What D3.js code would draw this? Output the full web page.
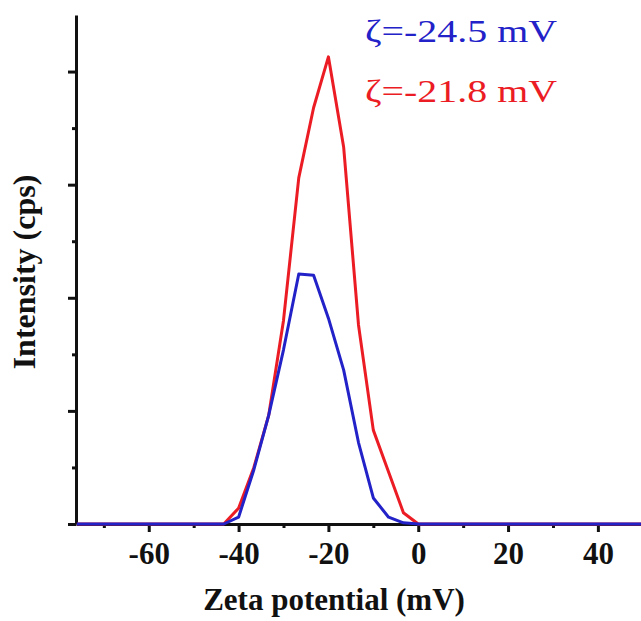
<!DOCTYPE html>
<meta charset="utf-8">
<body style="margin:0;background:#fff">
    <style>
        .axis path, .axis line { stroke: #111; }
        .axis path { stroke-width: 3px; }
        .axis line { stroke-width: 3px; }
        .axis text { font-family: "Liberation Serif", serif; font-weight: bold; font-size: 31px; fill: #111; }
        .curve { fill: none; stroke-width: 3px; stroke-linejoin: round; }
    </style>
    <script src="https://d3js.org/d3.v7.min.js"></script>
    <script>
        // zeta potential grid (mV) and the two intensity curves (arbitrary units)
        var zeta   = [-76, -43.3, -40, -36.6, -33.3, -30, -26.6, -23.3, -20, -16.6, -13.3, -10, -6.6, -3.3, 0, 50];
        var blueI  = [0, 0, 0.06, 0.48, 0.96, 1.54, 2.21, 2.20, 1.82, 1.36, 0.72, 0.23, 0.06, 0.01, 0, 0];
        var redI   = [0, 0, 0.14, 0.50, 0.96, 1.80, 3.06, 3.68, 4.13, 3.33, 1.76, 0.83, 0.46, 0.10, 0, 0];
        var xMajor = [-60, -40, -20, 0, 20, 40];
        var xMinor = [-70, -50, -30, -10, 10, 30];
        var yMajor = [0, 1, 2, 3, 4];
        var yMinor = [0.5, 1.5, 2.5, 3.5];
        var labels = ["ζ=-24.5 mV", "ζ=-21.8 mV"];

        var width = 641, height = 621;
        var svg = d3.select("body").append("svg")
            .attr("width", width).attr("height", height);

        var x = d3.scaleLinear().domain([-76.2, 49.6]).range([76, 641]);
        var y = d3.scaleLinear().domain([0, 4.5]).range([524, 15]);

        // minor ticks first, the major axes on top
        svg.append("g").attr("class", "axis")
            .attr("transform", "translate(0,524)")
            .call(d3.axisBottom(x).tickValues(xMinor).tickSize(4).tickFormat(""))
            .select(".domain").remove();
        svg.append("g").attr("class", "axis")
            .attr("transform", "translate(76,0)")
            .call(d3.axisLeft(y).tickValues(yMinor).tickSize(4).tickFormat(""))
            .select(".domain").remove();

        // plain hyphen for negatives, like the original
        var xAxis = svg.append("g").attr("class", "axis")
            .attr("transform", "translate(0,524)")
            .call(d3.axisBottom(x).tickValues(xMajor).tickSize(8).tickSizeOuter(0).tickPadding(10)
                .tickFormat(function(d) { return String(d); }));
        xAxis.selectAll("text").attr("dy", "0.71em");

        svg.append("g").attr("class", "axis")
            .attr("transform", "translate(76,0)")
            .call(d3.axisLeft(y).tickValues(yMajor).tickSize(8).tickSizeOuter(0).tickFormat(""));

        var line = d3.line()
            .x(function(d, i) { return x(zeta[i]); })
            .y(function(d) { return y(d); });

        svg.append("path").datum(redI).attr("class", "curve")
            .attr("stroke", "#ec1c24").attr("d", line);
        svg.append("path").datum(blueI).attr("class", "curve")
            .attr("stroke", "#2222c8").attr("d", line);

        // axis titles
        svg.append("text")
            .attr("x", 334).attr("y", 610)
            .attr("text-anchor", "middle")
            .style("font-family", "Liberation Serif, serif")
            .style("font-weight", "bold").style("font-size", "31px").style("fill", "#111")
            .text("Zeta potential (mV)");
        svg.append("text")
            .attr("transform", "translate(35,272) rotate(-90)")
            .attr("text-anchor", "middle")
            .style("font-family", "Liberation Serif, serif")
            .style("font-weight", "bold").style("font-size", "32px").style("fill", "#111")
            .text("Intensity (cps)");

        // legend labels
        svg.selectAll(".lab").data(labels).enter().append("text")
            .attr("class", "lab")
            .attr("x", 365)
            .attr("y", function(d, i) { return 42 + i * 60; })
            .attr("textLength", 192).attr("lengthAdjust", "spacingAndGlyphs")
            .style("font-family", "Liberation Serif, serif")
            .style("font-size", "31px")
            .style("fill", function(d, i) { return i === 0 ? "#2222c8" : "#ec1c24"; })
            .text(function(d) { return d; });
    </script>
